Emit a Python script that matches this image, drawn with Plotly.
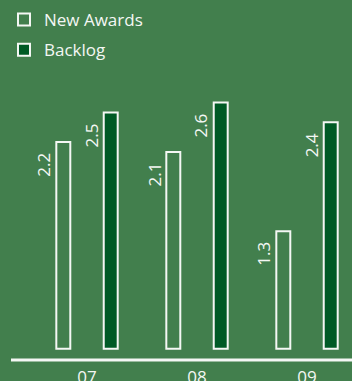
import plotly.graph_objects as go

categories = ["07", "08", "09"]
new_awards = [2.2, 2.1, 1.3]
backlog = [2.5, 2.6, 2.4]
series_names = ["New Awards", "Backlog"]

BG = "#427f4d"
DARK = "#005a25"
WHITE = "#f4f7f4"
FONT = "Open Sans"
BASE = 0.11  # bars start slightly above the axis line, as in the original

fig = go.Figure()
fig.add_trace(go.Bar(
    name=series_names[0], x=categories, y=[v - BASE for v in new_awards], base=BASE,
    width=0.127, offset=-0.279,
    marker=dict(color=BG, line=dict(color=WHITE, width=2)),
    legendgroup="a", hoverinfo="skip",
))
fig.add_trace(go.Bar(
    name=series_names[1], x=categories, y=[v - BASE for v in backlog], base=BASE,
    width=0.127, offset=0.152,
    marker=dict(color=DARK, line=dict(color=WHITE, width=2)),
    legendgroup="b", hoverinfo="skip",
))

annotations = []
for vals, xs in ((new_awards, -30), (backlog, 17.5)):
    for i, v in enumerate(vals):
        annotations.append(dict(
            x=i, y=v, xref="x", yref="y", text=f"{v:.1f}", showarrow=False,
            textangle=-90, xanchor="right", yanchor="top", xshift=xs, yshift=-9,
            font=dict(family=FONT, size=17, color=WHITE),
        ))

fig.update_layout(
    width=352, height=381,
    margin=dict(l=0, r=0, t=0, b=21),
    paper_bgcolor=BG, plot_bgcolor=BG,
    barmode="group",
    font=dict(family=FONT, size=17, color=WHITE),
    showlegend=True,
    legend=dict(
        x=4 / 352, y=1 - 2 / 360,
        xanchor="left", yanchor="top",
        bgcolor="rgba(0,0,0,0)", font=dict(family=FONT, size=17, color=WHITE),
        traceorder="grouped", tracegroupgap=5,
    ),
    xaxis=dict(
        type="category", automargin=False,
        range=[-0.791, 2.409], showline=False,
        ticks="", showgrid=False, zeroline=False, ticklabelstandoff=5,
        tickfont=dict(family=FONT, size=17, color=WHITE),
    ),
    yaxis=dict(range=[-0.003, 3.637], visible=False, showgrid=False,
               zeroline=False, automargin=False),
    annotations=annotations,
    shapes=[dict(type="line", xref="paper", yref="paper", x0=11 / 352, x1=1,
                 y0=0, y1=0, line=dict(color=WHITE, width=3))],
)

fig.write_html(
    "out.html",
    config={"displayModeBar": False},
    post_script="document.body.style.margin='0';document.body.style.padding='0';",
)
